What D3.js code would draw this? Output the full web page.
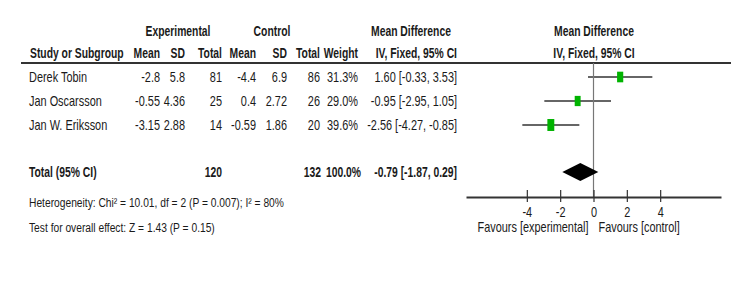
<!DOCTYPE html>
<html lang="en">
<head>
<meta charset="UTF-8">
<title>Forest plot</title>
<script src="https://d3js.org/d3.v7.min.js"></script>
<style>
    body { margin: 0; background: #fff; }
    svg text {
        font-family: "Liberation Sans", Arial, sans-serif;
        font-size: 14px;
        fill: #1a1a1a;
    }
    .head { font-weight: bold; font-size: 14px; }
</style>
</head>
<body>
<script>
    const studies = ["Derek Tobin", "Jan Oscarsson", "Jan W. Eriksson"];
    const expMean = [-2.8, -0.55, -3.15];
    const expSD = [5.8, 4.36, 2.88];
    const expTotal = [81, 25, 14];
    const ctlMean = [-4.4, 0.4, -0.59];
    const ctlSD = [6.9, 2.72, 1.86];
    const ctlTotal = [86, 26, 20];
    const weights = [31.3, 29.0, 39.6];
    const meanDiff = [1.60, -0.95, -2.56];
    const ciLow = [-0.33, -2.95, -4.27];
    const ciHigh = [3.53, 1.05, -0.85];
    const pooled = [-0.79, -1.87, 0.29];   // estimate, low, high
    const totals = [120, 132];
    const totalWeight = 100.0;
    const xTicks = [-4, -2, 0, 2, 4];

    const width = 750, height = 292;
    const sx = 0.78;    // narrow font look, regular text
    const sxb = 0.74;   // bold text
    const svg = d3.select("body").append("svg")
        .attr("width", width)
        .attr("height", height);

    // text helper: condensed text placed at (x, y)
    function put(parent, x, y, str, opts = {}) {
        return parent.append("text")
            .attr("class", opts.bold ? "head" : null)
            .attr("text-anchor", opts.anchor || "start")
            .attr("transform", `translate(${x},${y}) scale(${opts.s || (opts.bold ? sxb : sx)},1)`)
            .style("font-size", opts.size || null)
            .text(str);
    }

    const rows = studies.map((s, i) => ({
        name: s, em: expMean[i], esd: expSD[i], en: expTotal[i],
        cm: ctlMean[i], csd: ctlSD[i], cn: ctlTotal[i],
        w: weights[i], md: meanDiff[i], lo: ciLow[i], hi: ciHigh[i]
    }));

    const y = d3.scalePoint().domain(studies).range([77, 125]);
    const x = d3.scaleLinear().domain([-7.65, 7.65]).range([466, 721]);

    const fmt2 = v => v.toFixed(2);
    const ciText = (m, l, h) => `${fmt2(m)} [${fmt2(l)}, ${fmt2(h)}]`;

    // table columns (right edge of each column)
    const cols = [
        { key: "em", right: 160, head: "Mean", f: v => String(v) },
        { key: "esd", right: 185, head: "SD", f: v => String(v) },
        { key: "en", right: 222, head: "Total", f: v => String(v) },
        { key: "cm", right: 256, head: "Mean", f: v => String(v) },
        { key: "csd", right: 287, head: "SD", f: v => String(v) },
        { key: "cn", right: 320, head: "Total", f: v => String(v) },
        { key: "w", right: 358, head: "Weight", f: v => v.toFixed(1) + "%" }
    ];

    // headers
    put(svg, 178, 36, "Experimental", { bold: true, anchor: "middle" });
    put(svg, 272, 36, "Control", { bold: true, anchor: "middle" });
    put(svg, 411, 36, "Mean Difference", { bold: true, anchor: "middle" });
    put(svg, 594, 36, "Mean Difference", { bold: true, anchor: "middle" });
    put(svg, 30, 58, "Study or Subgroup", { bold: true });
    cols.forEach(c => put(svg, c.right, 58, c.head, { bold: true, anchor: "end" }));
    put(svg, 457, 58, "IV, Fixed, 95% CI", { bold: true, anchor: "end" });
    put(svg, 594, 58, "IV, Fixed, 95% CI", { bold: true, anchor: "middle" });

    svg.append("line")
        .attr("x1", 21).attr("x2", 731).attr("y1", 63).attr("y2", 63)
        .attr("stroke", "#333").attr("stroke-width", 2);

    // study rows
    const row = svg.selectAll(".row").data(rows).enter().append("g")
        .attr("class", "row");
    const rowText = (X, anchor, fn) => row.append("text")
        .attr("text-anchor", anchor)
        .attr("transform", d => `translate(${X},${y(d.name) + 5}) scale(${sx},1)`)
        .text(fn);
    rowText(29, "start", d => d.name);
    cols.forEach(c => rowText(c.right, "end", d => c.f(d[c.key])));
    rowText(457, "end", d => ciText(d.md, d.lo, d.hi));

    // total row
    const totalY = 172;
    put(svg, 29, totalY + 5, "Total (95% CI)", { bold: true });
    put(svg, 222, totalY + 5, totals[0], { bold: true, anchor: "end" });
    put(svg, 321, totalY + 5, totals[1], { bold: true, anchor: "end" });
    put(svg, 361, totalY + 5, totalWeight.toFixed(1) + "%", { bold: true, anchor: "end" });
    put(svg, 457, totalY + 5, ciText(pooled[0], pooled[1], pooled[2]), { bold: true, anchor: "end" });

    put(svg, 29, 207, "Heterogeneity: Chi\u00b2 = 10.01, df = 2 (P = 0.007); I\u00b2 = 80%", { size: "12.5px", s: 0.82 });
    put(svg, 29, 232, "Test for overall effect: Z = 1.43 (P = 0.15)", { size: "12.5px", s: 0.82 });

    // forest plot
    const axisY = 197;
    svg.append("line")
        .attr("x1", x(0)).attr("x2", x(0)).attr("y1", 63).attr("y2", axisY)
        .attr("stroke", "#777").attr("stroke-width", 1.2);

    row.append("line")
        .attr("x1", d => x(d.lo)).attr("x2", d => x(d.hi))
        .attr("y1", d => y(d.name)).attr("y2", d => y(d.name))
        .attr("stroke", "#333").attr("stroke-width", 1.6);
    row.append("rect")
        .attr("x", d => x(d.md) - 1.1 * Math.sqrt(d.w) / 2)
        .attr("y", d => y(d.name) - 1.9 * Math.sqrt(d.w) / 2)
        .attr("width", d => 1.1 * Math.sqrt(d.w))
        .attr("height", d => 1.9 * Math.sqrt(d.w))
        .attr("fill", "#00b300");

    const dh = 9;
    svg.append("path")
        .attr("d", `M${x(pooled[1])},${totalY} L${x(pooled[0])},${totalY - dh} L${x(pooled[2])},${totalY} L${x(pooled[0])},${totalY + dh} Z`)
        .attr("fill", "#000");

    const axis = svg.append("g")
        .attr("transform", `translate(0,${axisY})`)
        .call(d3.axisBottom(x).tickValues(xTicks).tickSize(0).tickPadding(10)
            .tickFormat(d => String(d)));
    axis.select(".domain").attr("stroke", "#333").attr("stroke-width", 2);
    axis.selectAll(".tick line").attr("y1", -7).attr("y2", 5)
        .attr("stroke", "#333").attr("stroke-width", 1.2);
    axis.selectAll(".tick text")
        .style("font-family", "\"Liberation Sans\", Arial, sans-serif")
        .style("font-size", "14px").attr("fill", "#1a1a1a")
        .attr("transform", `scale(${sx},1)`);

    put(svg, x(0) - 5, 232, "Favours [experimental]", { anchor: "end" });
    put(svg, x(0) + 5, 232, "Favours [control]");
</script>
</body>
</html>
